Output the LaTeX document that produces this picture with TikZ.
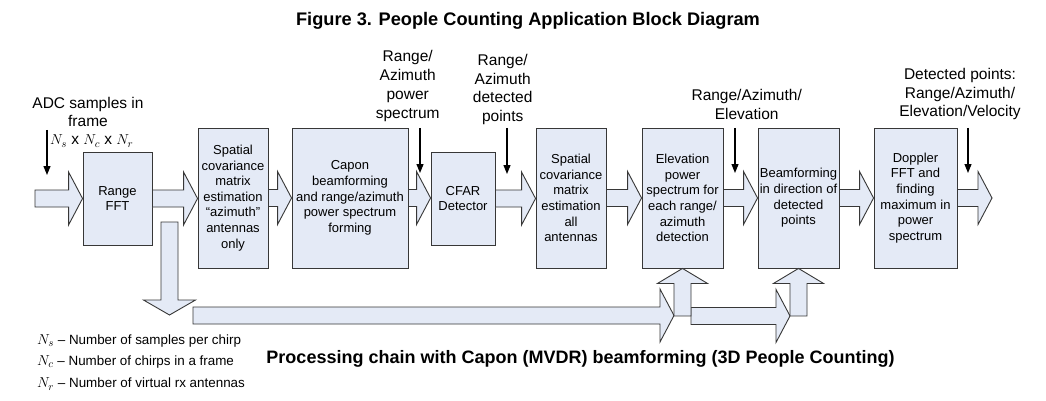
\documentclass[tikz,border=0pt]{standalone}
\usepackage{fontspec}
\setmainfont{Liberation Sans}
\usetikzlibrary{calc,arrows.meta}
\definecolor{boxfill}{RGB}{228,234,246}
\definecolor{edge}{RGB}{55,55,55}
\newcommand{\bigN}[1]{{\fontsize{15.5}{16}\selectfont$N_{#1}$}}
\begin{document}
\begin{tikzpicture}[x=1pt,y=-1pt,
  blk/.style={draw=edge, fill=boxfill, line width=0.9pt, align=center, inner sep=0pt,
    font=\fontsize{13}{15.6}\selectfont},
  lbl/.style={align=center, inner sep=0pt, font=\fontsize{15.5}{18.8}\selectfont},
  legend/.style={anchor=west, inner sep=0pt, font=\fontsize{13.4}{16}\selectfont},
  thinarrow/.style={line width=1.2pt, -{Triangle[length=9pt,width=7pt]}},
  fatR/.style={draw=edge, fill=boxfill, line width=0.9pt,
    to path={let \p1=(\tikztostart), \p2=(\tikztotarget) in
      (\x1,\y1+8.5pt) -- (\x2-14pt,\y1+8.5pt) -- (\x2-14pt,\y1+26.5pt) -- (\x2,\y1)
      -- (\x2-14pt,\y1-26.5pt) -- (\x2-14pt,\y1-8.5pt) -- (\x1,\y1-8.5pt) -- cycle}},
  fatD/.style={draw=edge, fill=boxfill, line width=0.9pt,
    to path={let \p1=(\tikztostart), \p2=(\tikztotarget) in
      (\x1-8.5pt,\y1) -- (\x1+8.5pt,\y1) -- (\x1+8.5pt,\y2+15pt) -- (\x1+26pt,\y2+15pt)
      -- (\x1,\y2) -- (\x1-26pt,\y2+15pt) -- (\x1-8.5pt,\y2+15pt) -- cycle}},
  fatU/.style={draw=edge, fill=boxfill, line width=0.9pt,
    to path={let \p1=(\tikztostart), \p2=(\tikztotarget) in
      (\x1-8.5pt,\y1) -- (\x1+8.5pt,\y1) -- (\x1+8.5pt,\y2-15pt) -- (\x1+25pt,\y2-15pt)
      -- (\x1,\y2) -- (\x1-25pt,\y2-15pt) -- (\x1-8.5pt,\y2-15pt) -- cycle}},
]
\fill[white] (0,0) rectangle (1046,401);
\useasboundingbox (0,0) rectangle (1046,401);

% title
\node[font=\bfseries\fontsize{18.2}{21}\selectfont] (title) at (528,21) {Figure 3. People Counting Application Block Diagram};

% blocks
\node[blk, minimum width=69, minimum height=93] (fft) at (117.5,198.5) {Range\\FFT};
\node[blk, minimum width=70, minimum height=140] (sp1) at (233,198) {\raisebox{-6pt}{\parbox{70pt}{\centering Spatial\\covariance\\matrix\\estimation\\``azimuth''\\antennas\\only}}};
\node[blk, minimum width=116, minimum height=140] (cap) at (350,198) {Capon\\beamforming\\and range/azimuth\\power spectrum\\forming};
\node[blk, minimum width=64, minimum height=93] (cfar) at (463,198.5) {CFAR\\Detector};
\node[blk, minimum width=70, minimum height=140] (sp2) at (571,198) {\raisebox{6pt}{\parbox{70pt}{\centering Spatial\\covariance\\matrix\\estimation\\all\\antennas}}};
\node[blk, minimum width=81, minimum height=140] (elev) at (682.5,198) {Elevation\\power\\spectrum for\\each range/\\azimuth\\detection};
\node[blk, minimum width=81, minimum height=140] (bf) at (798.5,198) {Beamforming\\in direction of\\detected\\points};
\node[blk, minimum width=83, minimum height=140] (dop) at (915.5,198) {Doppler\\FFT and\\finding\\maximum in\\power\\spectrum};

% free ends
\coordinate (in) at (35,198.5);
\coordinate (out) at (992,198);
\coordinate (split) at (169.5,222);
\coordinate (down) at (169.5,315);
\coordinate (lstart) at (193,315.5);
\coordinate (u1) at ($(elev.south)+(0,47.5)$);
\coordinate (u2) at ($(bf.south)+(0,47.5)$);

% main chain
\draw[fatR] (in) to (fft.west);
\draw[fatR] (fft.east) to (sp1.west);
\draw[fatR] (sp1.east) to (cap.west);
\draw[fatR] (cap.east) to (cfar.west);
\draw[fatR] (cfar.east) to (sp2.west);
\draw[fatR] (sp2.east) to (elev.west);
\draw[fatR] (elev.east) to (bf.west);
\draw[fatR] (bf.east) to (dop.west);
\draw[fatR] (dop.east) to (out);

% bypass path
\draw[fatD] (split) to (down);
\draw[fatR] (lstart) to ($(u1)+(-8.5,0)$);
\draw[fatR] ($(u1)+(8.5,0)$) to ($(u2)+(-8.5,0)$);
\draw[fatU] (u1) to (elev.south);
\draw[fatU] (u2) to (bf.south);

% labels and thin arrows
\node[lbl] (adc) at (88,112) {ADC samples in\\frame};
\node[lbl, anchor=west, font=\fontsize{15.5}{18}\selectfont] (dims) at (50,141) {$N_s$ x $N_c$ x $N_r$};
\coordinate (a0s) at (47,130); \coordinate (a0e) at (47,175);
\draw[thinarrow] (a0s) -- (a0e);

\node[lbl] (l1) at (407.7,86) {Range/\\Azimuth\\power\\spectrum};
\coordinate (a1s) at (420,128); \coordinate (a1e) at (420,173);
\draw[thinarrow] (a1s) -- (a1e);

\node[lbl] (l2) at (502.7,89.5) {Range/\\Azimuth\\detected\\points};
\coordinate (a2s) at (507,128); \coordinate (a2e) at (507,174);
\draw[thinarrow] (a2s) -- (a2e);

\node[lbl] (l3) at (746.7,104.5) {Range/Azimuth/\\Elevation};
\coordinate (a3s) at (735,128); \coordinate (a3e) at (735,173);
\draw[thinarrow] (a3s) -- (a3e);

\node[lbl] (l4) at (960,94) {Detected points:\\Range/Azimuth/\\Elevation/Velocity};
\coordinate (a4s) at (968,128); \coordinate (a4e) at (968,173);
\draw[thinarrow] (a4s) -- (a4e);

% legend
\node[legend] (ns) at (37,341) {\bigN{s} -- Number of samples per chirp};
\node[legend] (nc) at (37,362) {\bigN{c} -- Number of chirps in a frame};
\node[legend] (nr) at (37,384) {\bigN{r} -- Number of virtual rx antennas};

% caption
\node[font=\bfseries\fontsize{18}{21}\selectfont] (cap2) at (580.5,359) {Processing chain with Capon (MVDR) beamforming (3D People Counting)};
\end{tikzpicture}
\end{document}
